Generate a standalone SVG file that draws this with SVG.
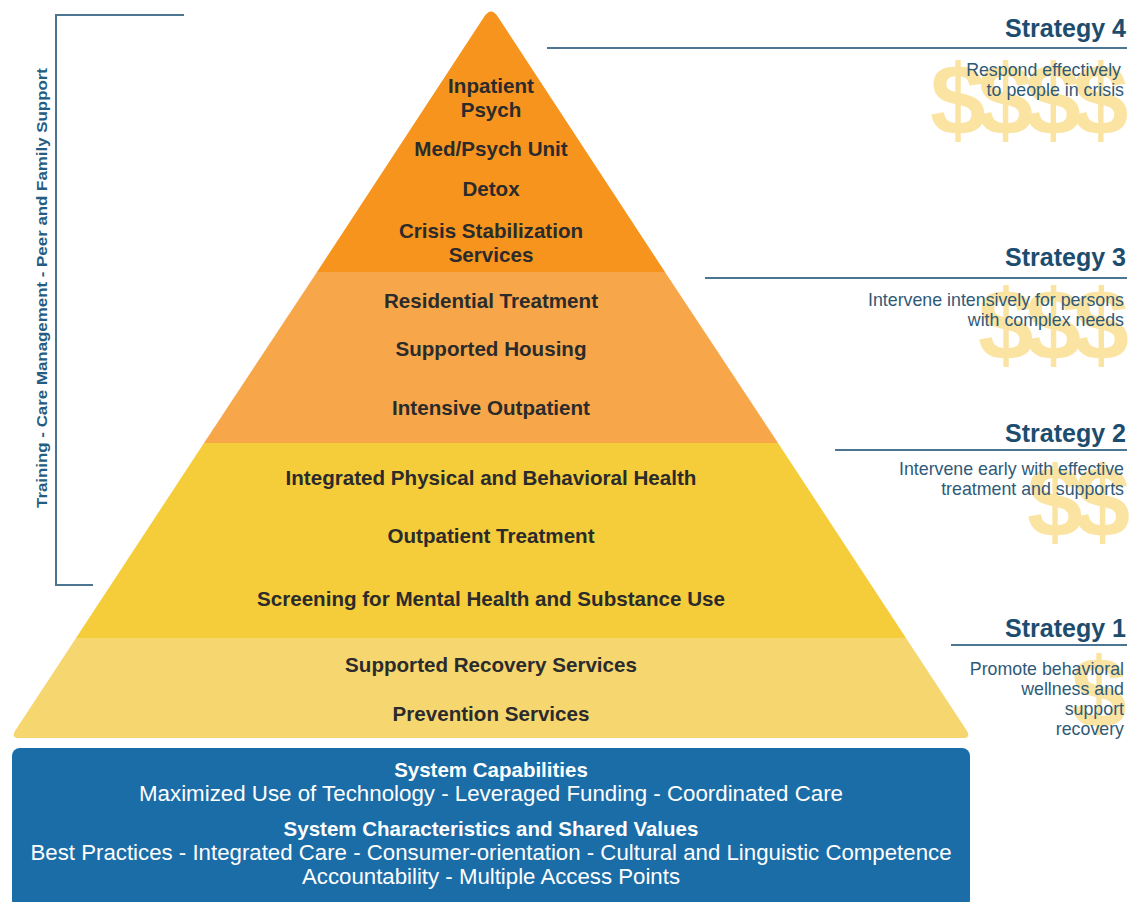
<svg xmlns="http://www.w3.org/2000/svg" width="1130" height="902" viewBox="0 0 1130 902">
<style>
.lvl{font-family:"Liberation Sans",Arial,sans-serif;font-weight:bold;font-size:20.6px;fill:#2b2b2b;text-anchor:middle}
.st{font-family:"Liberation Sans",Arial,sans-serif;font-weight:bold;font-size:25px;fill:#1d4d6e;text-anchor:end}
.sd{font-family:"Liberation Sans",Arial,sans-serif;font-size:17.8px;fill:#2f5a77;text-anchor:end}
.dol{font-family:"Liberation Sans",Arial,sans-serif;font-weight:bold;font-size:100px;fill:#fbe3a2;letter-spacing:-8px}
.bh{font-family:"Liberation Sans",Arial,sans-serif;font-weight:bold;font-size:20.5px;fill:#ffffff;text-anchor:middle}
.bt{font-family:"Liberation Sans",Arial,sans-serif;font-size:22px;fill:#ffffff;text-anchor:middle}
.sl{stroke:#4c7591;stroke-width:2;fill:none}
</style>
<rect width="1130" height="902" fill="#ffffff"/>

<g id="dollars">
<text class="dol" x="930" y="135">$$$$</text>
<text class="dol" x="978" y="360">$$$</text>
<text class="dol" x="1027" y="537">$$</text>
<text class="dol" x="1071" y="728">$</text>
</g>

<g id="connectors">
<path class="sl" d="M547,48 H1127"/>
<path class="sl" d="M705,278 H1127"/>
<path class="sl" d="M835,450 H1127"/>
<path class="sl" d="M951,645 H1127"/>
<path class="sl" d="M184,15 H56 V585 H93"/>
</g>

<g id="tier4">
<path d="M317,272 L484,17 Q491,6 498,17 L665,272 Z" fill="#f7941e"/>
<text class="lvl" x="491" y="93">Inpatient</text>
<text class="lvl" x="491" y="117">Psych</text>
<text class="lvl" x="491" y="156">Med/Psych Unit</text>
<text class="lvl" x="491" y="196">Detox</text>
<text class="lvl" x="491" y="238">Crisis Stabilization</text>
<text class="lvl" x="491" y="262">Services</text>
</g>

<g id="tier3">
<path d="M317,272 L665,272 L778,443 L204,443 Z" fill="#f7a74a"/>
<text class="lvl" x="491" y="308">Residential Treatment</text>
<text class="lvl" x="491" y="356">Supported Housing</text>
<text class="lvl" x="491" y="415">Intensive Outpatient</text>
</g>

<g id="tier2">
<path d="M204,443 L778,443 L906,638 L76,638 Z" fill="#f5cd3b"/>
<text class="lvl" x="491" y="485">Integrated Physical and Behavioral Health</text>
<text class="lvl" x="491" y="543">Outpatient Treatment</text>
<text class="lvl" x="491" y="606">Screening for Mental Health and Substance Use</text>
</g>

<g id="tier1">
<path d="M76,638 L906,638 L967,731 Q971,738 963,738 L19,738 Q11,738 15,731 Z" fill="#f5d66f"/>
<text class="lvl" x="491" y="672">Supported Recovery Services</text>
<text class="lvl" x="491" y="721">Prevention Services</text>
</g>

<g id="foundation">
<rect x="12" y="748" width="958" height="160" rx="8" fill="#1b6da8"/>
<text class="bh" x="491" y="777">System Capabilities</text>
<text class="bt" x="491" y="801" textLength="704" lengthAdjust="spacingAndGlyphs">Maximized Use of Technology - Leveraged Funding - Coordinated Care</text>
<text class="bh" x="491" y="836">System Characteristics and Shared Values</text>
<text class="bt" x="491" y="860" textLength="921" lengthAdjust="spacingAndGlyphs">Best Practices - Integrated Care - Consumer-orientation - Cultural and Linguistic Competence</text>
<text class="bt" x="491" y="884" textLength="378" lengthAdjust="spacingAndGlyphs">Accountability - Multiple Access Points</text>
</g>

<g id="support">
<text transform="translate(47,288) rotate(-90)" font-family="Liberation Sans, Arial, sans-serif" font-weight="bold" font-size="15.5" fill="#245c82" text-anchor="middle" textLength="440" lengthAdjust="spacingAndGlyphs">Training - Care Management - Peer and Family Support</text>
</g>

<g id="strategy4">
<text class="st" x="1126" y="37">Strategy 4</text>
<text class="sd" x="1121" y="76">Respond effectively</text>
<text class="sd" x="1124" y="96">to people in crisis</text>
</g>
<g id="strategy3">
<text class="st" x="1126" y="266">Strategy 3</text>
<text class="sd" x="1124" y="306">Intervene intensively for persons</text>
<text class="sd" x="1124" y="326">with complex needs</text>
</g>
<g id="strategy2">
<text class="st" x="1126" y="442">Strategy 2</text>
<text class="sd" x="1124" y="475">Intervene early with effective</text>
<text class="sd" x="1124" y="495">treatment and supports</text>
</g>
<g id="strategy1">
<text class="st" x="1126" y="637">Strategy 1</text>
<text class="sd" x="1124" y="675">Promote behavioral</text>
<text class="sd" x="1124" y="695">wellness and</text>
<text class="sd" x="1124" y="715">support</text>
<text class="sd" x="1124" y="735">recovery</text>
</g>
</svg>
